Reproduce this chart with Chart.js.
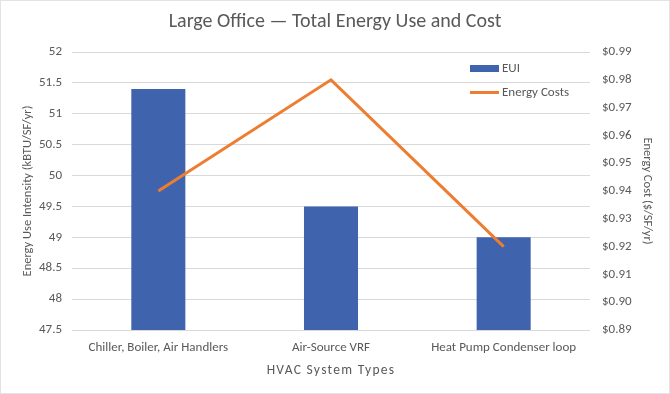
<!DOCTYPE html>
<html>
<head>
<meta charset="utf-8">
<script src="https://cdn.jsdelivr.net/npm/chart.js@4/dist/chart.umd.min.js"></script>
<style>
  html, body { margin: 0; padding: 0; background: #ffffff; }
  #wrap { position: relative; width: 670px; height: 394px; }
  #frame { position: absolute; left: 0; top: 0; width: 668px; height: 392px; border: 1px solid #e3e3e3; pointer-events: none; }
  #legend { position: absolute; left: 470px; top: 59px; font-family: Carlito, Calibri, Lato, sans-serif; font-size: 13px; color: #595959; }
  .item { position: relative; height: 24px; }
  .sw { position: absolute; left: 0; width: 29px; }
  .lbl { position: absolute; left: 32px; white-space: nowrap; line-height: 16px; }
  #xtitle { position: absolute; left: 0; width: 662px; top: 361px; text-align: center; font-family: Carlito, Calibri, Lato, sans-serif; font-size: 13.5px; letter-spacing: 1.3px; color: #595959; line-height: 18px; }
</style>
</head>
<body>
<div id="wrap">
  <canvas id="c" width="670" height="394"></canvas>
  <div id="legend"></div>
  <div id="xtitle"></div>
  <div id="frame"></div>
</div>
<script>
const categories = ["Chiller, Boiler, Air Handlers", "Air-Source VRF", "Heat Pump Condenser loop"];
const euiValues = [51.4, 49.5, 49.0];
const costValues = [0.94, 0.98, 0.92];
const seriesNames = ["EUI", "Energy Costs"];
const euiTicks = [47.5, 48, 48.5, 49, 49.5, 50, 50.5, 51, 51.5, 52];
const costTicks = [0.89, 0.90, 0.91, 0.92, 0.93, 0.94, 0.95, 0.96, 0.97, 0.98, 0.99];
const xAxisTitle = "HVAC System Types";

const FONT = "Carlito, Calibri, Lato, sans-serif";
const TXT = "#595959";
const BLUE = "#4063AE";
const ORANGE = "#ED7D31";

// HTML legend and x-axis title
const legend = document.getElementById("legend");
legend.innerHTML =
  '<div class="item"><div class="sw" style="top:6px;height:7px;background:' + BLUE + '"></div><div class="lbl" style="top:1px">' + seriesNames[0] + '</div></div>' +
  '<div class="item"><div class="sw" style="top:8px;height:3px;background:' + ORANGE + '"></div><div class="lbl" style="top:1px">' + seriesNames[1] + '</div></div>';
document.getElementById("xtitle").textContent = xAxisTitle;

new Chart(document.getElementById("c"), {
  data: {
    labels: categories,
    datasets: [
      {
        type: "line",
        label: seriesNames[1],
        data: costValues,
        yAxisID: "y1",
        borderColor: ORANGE,
        backgroundColor: ORANGE,
        borderWidth: 3,
        pointRadius: 0,
        tension: 0,
        order: 0
      },
      {
        type: "bar",
        label: seriesNames[0],
        data: euiValues,
        yAxisID: "y",
        backgroundColor: BLUE,
        borderWidth: 0,
        categoryPercentage: 1,
        barPercentage: 0.313,
        order: 1
      }
    ]
  },
  options: {
    responsive: false,
    animation: false,
    layout: { padding: 0 },
    plugins: {
      legend: { display: false },
      tooltip: { enabled: false },
      title: {
        display: true,
        text: "Large Office \u2014 Total Energy Use and Cost",
        color: TXT,
        font: { family: FONT, size: 20, weight: "normal", lineHeight: 1.2 },
        padding: { top: 10, bottom: 18 }
      }
    },
    scales: {
      x: {
        offset: true,
        grid: { display: false, drawTicks: false },
        border: { display: false },
        ticks: { color: TXT, font: { family: FONT, size: 13 }, padding: 9.9, maxRotation: 0, autoSkip: false },
        title: { display: false },
        afterFit: s => { s.height = 64; }
      },
      y: {
        position: "left",
        min: euiTicks[0],
        max: euiTicks[euiTicks.length - 1],
        afterBuildTicks: s => { s.ticks = euiTicks.map(v => ({ value: v })); },
        grid: { color: "#d9d9d9", lineWidth: 1, drawTicks: false },
        border: { display: false },
        ticks: { color: TXT, font: { family: FONT, size: 13 }, padding: 10, callback: v => String(v) },
        title: {
          display: true,
          text: "Energy Use Intensity (kBTU/SF/yr)",
          color: TXT,
          font: { family: FONT, size: 12.5, lineHeight: 1.2 },
          padding: { top: 20.5, bottom: 0 }
        },
        afterFit: s => { s.width = 72; }
      },
      y1: {
        position: "right",
        min: costTicks[0],
        max: costTicks[costTicks.length - 1],
        afterBuildTicks: s => { s.ticks = costTicks.map(v => ({ value: v })); },
        grid: { display: false, drawTicks: false },
        border: { display: false },
        ticks: { color: TXT, font: { family: FONT, size: 13 }, padding: 12, callback: v => "$" + Number(v).toFixed(2) },
        title: {
          display: true,
          text: "Energy Cost ($/SF/yr)",
          color: TXT,
          font: { family: FONT, size: 12.5, lineHeight: 1.2 },
          padding: { top: 15.5, bottom: 0 }
        },
        afterFit: s => { s.width = 80; }
      }
    }
  }
});
</script>
</body>
</html>
